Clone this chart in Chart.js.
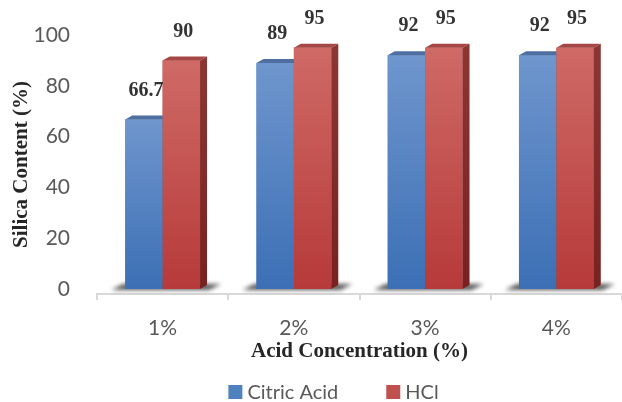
<!DOCTYPE html>
<html>
<head>
<meta charset="utf-8">
<script src="https://cdn.jsdelivr.net/npm/chart.js@4.4.1/dist/chart.umd.min.js"></script>
<style>
  html, body { margin: 0; padding: 0; background: #ffffff; }
  #wrap { width: 622px; height: 402px; }
</style>
</head>
<body>
<div id="wrap"><canvas id="chart" width="622" height="402"></canvas></div>
<script>
// Silica content after leaching with two acids
const categories = ['1%', '2%', '3%', '4%'];
const citricAcid = [66.7, 89, 92, 92];
const hcl = [90, 95, 95, 95];
const yTicks = [0, 20, 40, 60, 80, 100];
const seriesNames = ['Citric Acid', 'HCl'];

const SANS = 'Lato';
const SERIF = 'Liberation Serif';
const DX = 7, DY = 4; // depth of the extruded faces

const faces = [
  { flat: '#4f81bd', front: ['#6f96cd', '#3c6fb5'], top: '#4e6f9f', side: ['#3e5f8f', '#2e4d7c'] },
  { flat: '#c0504d', front: ['#cf6a66', '#b63a39'], top: '#a54845', side: ['#8c3634', '#772221'] }
];

function barGeom(el) {
  const p = el.getProps(['x', 'y', 'width', 'base'], true);
  return { x0: p.x - p.width / 2, x1: p.x + p.width / 2, y: p.y, base: p.base, cx: p.x };
}

function poly(ctx, pts, fill) {
  ctx.beginPath();
  ctx.moveTo(pts[0][0], pts[0][1]);
  for (let k = 1; k < pts.length; k++) ctx.lineTo(pts[k][0], pts[k][1]);
  ctx.closePath();
  ctx.fillStyle = fill;
  ctx.fill();
}

// Extruded bars: floor shadows, front faces with vertical shading, top and side faces
const bars3d = {
  id: 'bars3d',
  beforeDatasetsDraw(chart) {
    const ctx = chart.ctx;
    const m0 = chart.getDatasetMeta(0), m1 = chart.getDatasetMeta(1);
    ctx.save();
    ctx.filter = 'blur(2px)';
    m0.data.forEach((el, i) => {
      const a = barGeom(el), b = barGeom(m1.data[i]);
      poly(ctx, [
        [a.x0 - 14, a.base + 1], [a.x0 - 2, a.base - 5],
        [b.x1 + DX + 14, b.base - 5], [b.x1 + DX + 2, b.base + 1]
      ], 'rgba(30,30,30,0.75)');
    });
    ctx.restore();
  },
  afterDatasetsDraw(chart) {
    const ctx = chart.ctx;
    const metas = [chart.getDatasetMeta(0), chart.getDatasetMeta(1)];
    ctx.save();
    metas[0].data.forEach((_, i) => {
      metas.forEach((meta, d) => {
        const g = barGeom(meta.data[i]);
        const f = faces[d];
        const fg = ctx.createLinearGradient(0, g.y, 0, g.base);
        fg.addColorStop(0, f.front[0]);
        fg.addColorStop(1, f.front[1]);
        ctx.fillStyle = fg;
        ctx.fillRect(g.x0, g.y, g.x1 - g.x0, g.base - g.y);
        poly(ctx, [[g.x0, g.y], [g.x1, g.y], [g.x1 + DX, g.y - DY], [g.x0 + DX, g.y - DY]], f.top);
        const sg = ctx.createLinearGradient(0, g.y, 0, g.base);
        sg.addColorStop(0, f.side[0]);
        sg.addColorStop(1, f.side[1]);
        poly(ctx, [[g.x1, g.y], [g.x1 + DX, g.y - DY], [g.x1 + DX, g.base - DY], [g.x1, g.base]], sg);
      });
    });
    // value labels above each bar
    ctx.font = 'bold 20px "' + SERIF + '"';
    ctx.fillStyle = '#333333';
    ctx.textAlign = 'center';
    ctx.textBaseline = 'middle';
    metas.forEach((meta, d) => {
      const values = chart.data.datasets[d].data;
      meta.data.forEach((el, i) => {
        const g = barGeom(el);
        ctx.fillText(String(values[i]), g.cx + 2, g.y - 29);
      });
    });
    ctx.restore();
  },
  afterDraw(chart) {
    // legend row under the axis title
    const ctx = chart.ctx;
    const area = chart.chartArea;
    ctx.save();
    ctx.font = '20px "' + SANS + '"';
    ctx.textBaseline = 'middle';
    ctx.textAlign = 'left';
    const box = 14, gapText = 5, gapItem = 48;
    const widths = seriesNames.map(s => box + gapText + ctx.measureText(s).width);
    const total = widths.reduce((a, b) => a + b, 0) + gapItem * (widths.length - 1);
    let x = (area.left + area.right) / 2 - 26 - total / 2;
    const cy = chart.height - 10;
    seriesNames.forEach((s, d) => {
      ctx.fillStyle = faces[d].flat;
      ctx.fillRect(x, cy - box / 2, box, box);
      ctx.fillStyle = '#595959';
      ctx.fillText(s, x + box + gapText, cy + 1);
      x += widths[d] + gapItem;
    });
    ctx.restore();
  }
};

new Chart(document.getElementById('chart'), {
  type: 'bar',
  data: {
    labels: categories,
    datasets: [
      { label: seriesNames[0], data: citricAcid, backgroundColor: faces[0].flat, borderWidth: 0 },
      { label: seriesNames[1], data: hcl, backgroundColor: faces[1].flat, borderWidth: 0 }
    ]
  },
  options: {
    responsive: false,
    animation: false,
    devicePixelRatio: 1,
    layout: { padding: { top: 35, bottom: 30, left: 0, right: -6 } },
    datasets: { bar: { categoryPercentage: 0.57, barPercentage: 1.0 } },
    plugins: { legend: { display: false }, tooltip: { enabled: false } },
    scales: {
      x: {
        offset: true,
        afterFit: s => { s.height = 78; },
        grid: { display: true, drawOnChartArea: false, drawTicks: true, tickLength: 6, color: '#d9d9d9', lineWidth: 2 },
        border: { display: true, color: '#d9d9d9', width: 2 },
        ticks: { color: '#595959', font: { family: SANS, size: 21 }, padding: 16 },
        title: {
          display: true, text: 'Acid Concentration (%)', color: '#262626',
          font: { family: SERIF, size: 21, weight: 'bold' }, padding: { top: 0, bottom: 8 }
        }
      },
      y: {
        min: -2,
        max: 100,
        afterBuildTicks: s => { s.ticks = yTicks.map(v => ({ value: v })); },
        afterFit: s => { s.width = 97; s.paddingTop = 12; s.paddingBottom = 12; },
        grid: { display: false, drawTicks: false },
        border: { display: false },
        ticks: { color: '#595959', font: { family: SANS, size: 21 }, padding: 27 },
        title: {
          display: true, text: 'Silica Content (%)', color: '#262626',
          font: { family: SERIF, size: 21, weight: 'bold' }, padding: { top: 9, bottom: 0 }
        }
      }
    }
  },
  plugins: [bars3d]
});
</script>
</body>
</html>
